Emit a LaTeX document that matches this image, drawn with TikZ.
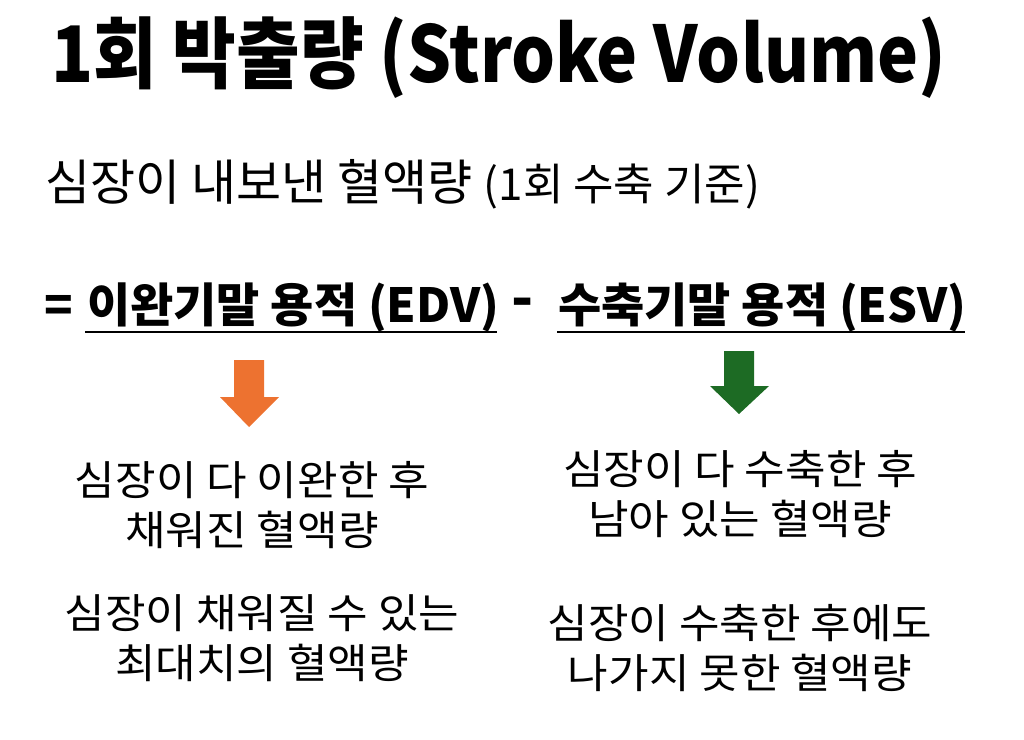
\documentclass[tikz,border=0pt]{standalone}
\usepackage{fontspec}
\setmainfont{Noto Sans CJK KR}
\newfontfamily\titlefont{Noto Sans CJK KR}[FakeStretch=0.887]
\newfontfamily\notefont{Noto Sans CJK KR}[FakeStretch=1.075]
\usepackage{tikz}

\definecolor{arroworange}{HTML}{ED7230}
\definecolor{arrowgreen}{HTML}{1D6B24}

\tikzset{
  titletext/.style={anchor=base west,inner sep=0pt,font=\titlefont\fontsize{78}{80}\selectfont\bfseries},
  subtext/.style={anchor=base west,inner sep=0pt,font=\fontsize{49}{52}\selectfont},
  eqtext/.style={anchor=base west,inner sep=0pt,font=\fontsize{47}{50}\selectfont\bfseries},
  notetext/.style={anchor=base,inner sep=0pt,align=center,font=\notefont\fontsize{41}{50}\selectfont},
}

\begin{document}
\begin{tikzpicture}[x=1pt,y=-1pt]
\useasboundingbox (0,0) rectangle (1024,739);

% title and definition

\node[titletext] (title) at (51,82) {1회 박출량 (Stroke Volume)};
\node[subtext] (sub) at (45,200) {심장이 내보낸 혈액량 {\fontsize{44}{48}\selectfont(1회 수축 기준)}};

% the difference

\node[eqtext] (eq) at (44,322) {=};
\node[eqtext] (edv) at (87,322) {이완기말 용적 (EDV)};
\node[eqtext,anchor=base,font=\fontsize{58}{60}\selectfont\bfseries] (minus) at (523,318) {-};
\node[eqtext] (esv) at (558,322) {수축기말 용적 (ESV)};

\coordinate (u1) at (85,332);
\coordinate (u2) at (497,332);
\coordinate (u3) at (557,332);
\coordinate (u4) at (965,332);
\draw[line width=2.5pt] (u1) -- (u2);
\draw[line width=2.5pt] (u3) -- (u4);

% arrows

\coordinate (o) at (249,360);
\fill[arroworange] (234,360) -- (264,360) -- (264,397) -- (279,397) -- (249,427) -- (220,397) -- (234,397) -- cycle;

\coordinate (g) at (739,351);
\fill[arrowgreen] (724,351) -- (754,351) -- (754,386) -- (769,386) -- (739,414) -- (710,386) -- (724,386) -- cycle;

% notes

\node[notetext] (edv1) at (252,545) {심장이 다 이완한 후\\채워진 혈액량};
\node[notetext] (edv2) at (262,678) {심장이 채워질 수 있는\\최대치의 혈액량};

\node[notetext] (esv1) at (740,534) {심장이 다 수축한 후\\남아 있는 혈액량};
\node[notetext] (esv2) at (740,688) {심장이 수축한 후에도\\나가지 못한 혈액량};

\end{tikzpicture}
\end{document}
